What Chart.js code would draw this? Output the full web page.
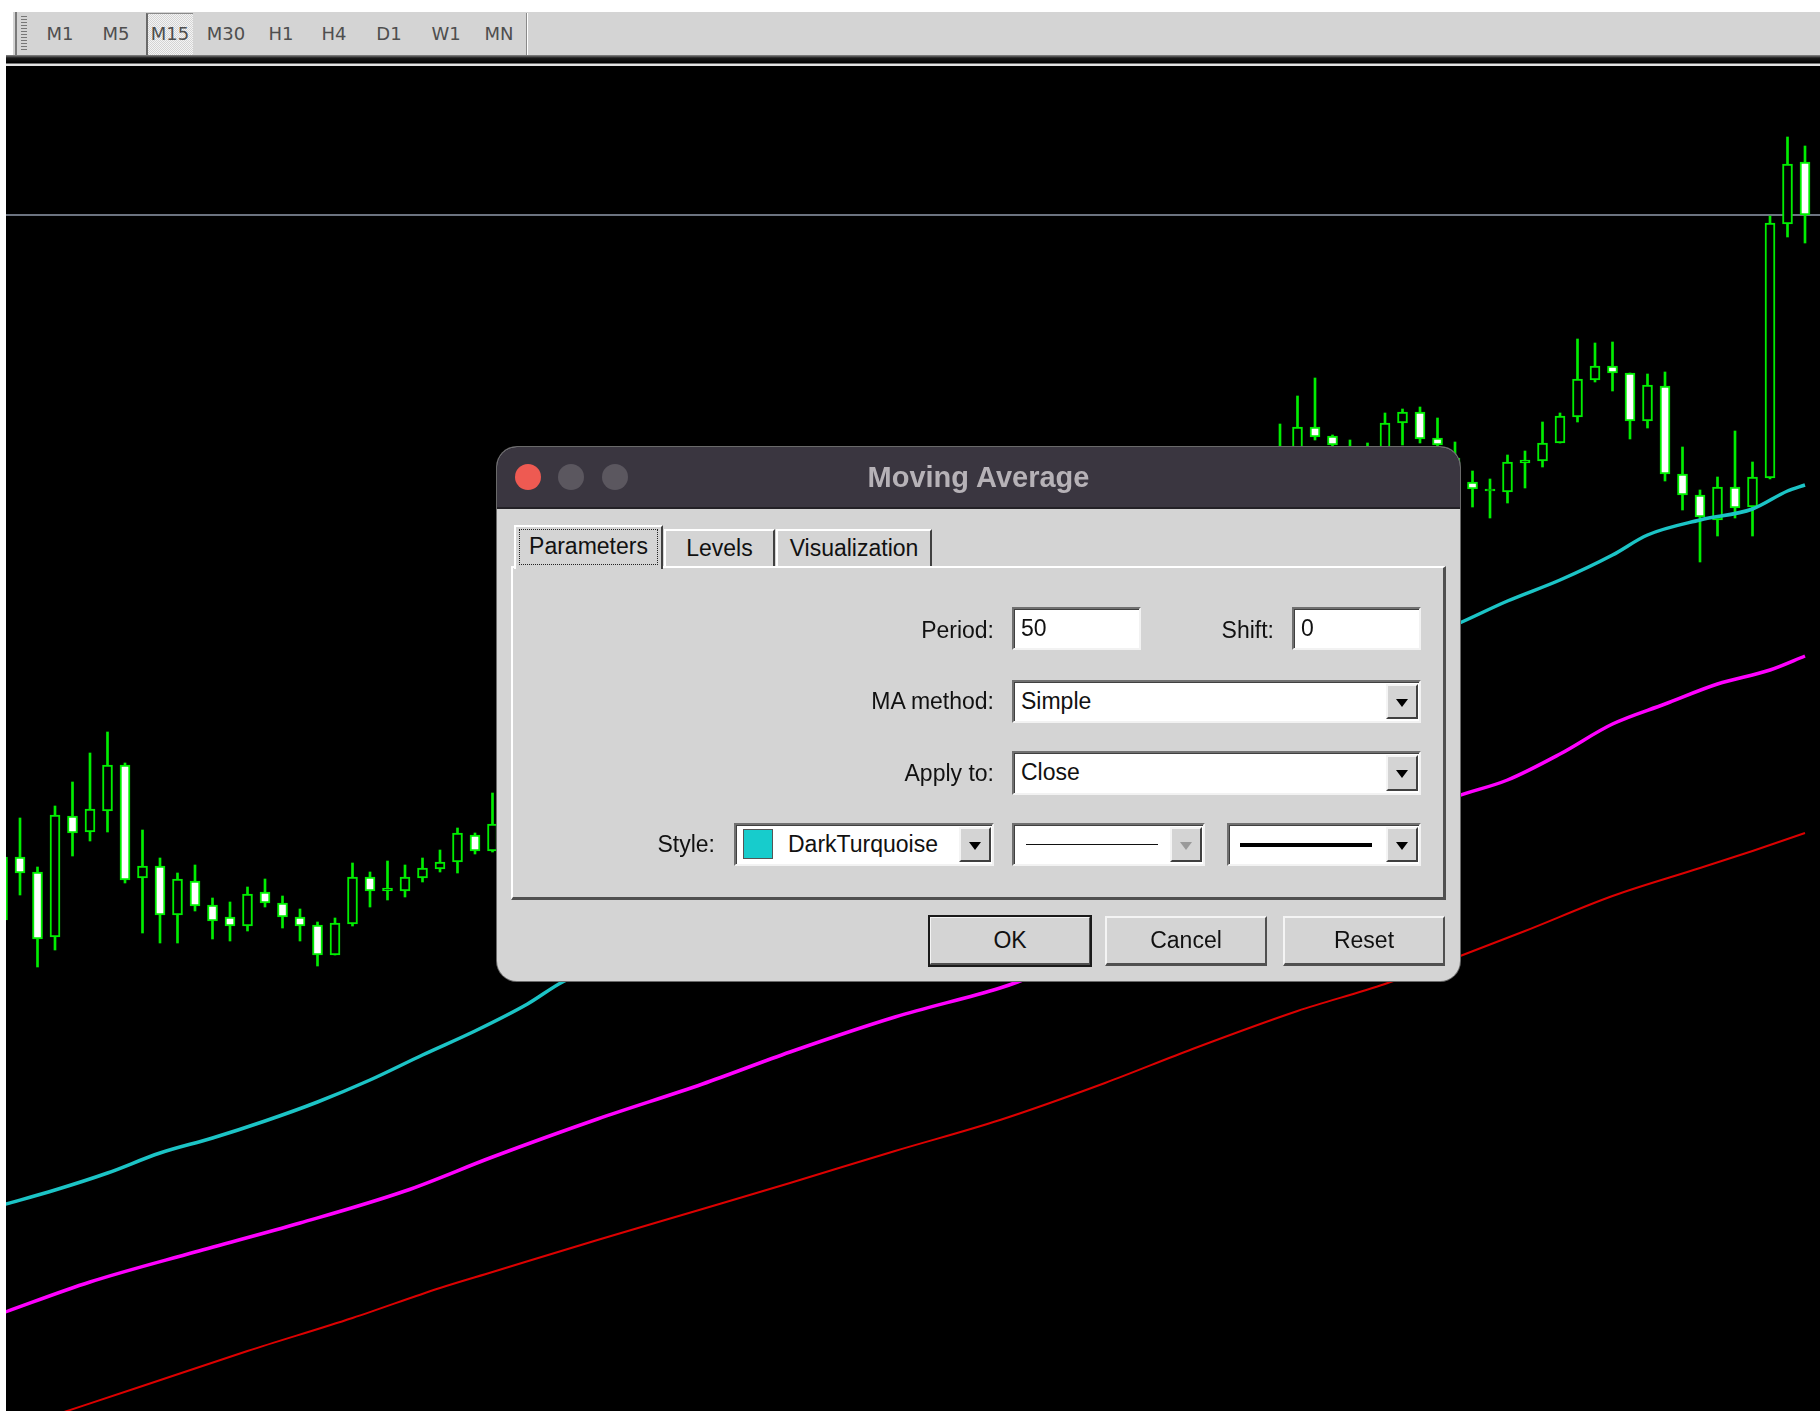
<!DOCTYPE html>
<html>
<head>
<meta charset="utf-8">
<script src="https://cdn.jsdelivr.net/npm/chart.js@4.4.1/dist/chart.umd.min.js"></script>
<style>
body{margin:0;width:1820px;height:1411px;overflow:hidden;background:#fff;position:relative;font-family:"Liberation Sans",Arial,sans-serif}
#tb{position:absolute;left:13px;top:12px;width:1807px;height:43px;background:#d4d4d4}
.tf{position:absolute;top:12px;height:43px;line-height:43px;font-family:"DejaVu Sans",sans-serif;font-size:18px;color:#4e4e4e;transform:translateX(-50%)}
#sel{position:absolute;left:146px;top:13px;width:47px;height:42px;box-sizing:border-box;border-left:2px solid #6a6a6a;border-top:1px solid #8a8a8a;background:repeating-conic-gradient(#f4f4f4 0 25%,#d4d4d4 0 50%) 0 0/2px 2px}
#under{position:absolute;left:6px;top:55px;width:1814px;height:13px;background:linear-gradient(to bottom,#8a8a8a 0px,#1a1a1a 3px,#000 8px,#e4e4e4 9px,#e4e4e4 11px,#000 11px)}
#cv{position:absolute;left:6px;top:68px;background:#000}
#dlg{position:absolute;left:497px;top:447px;width:963px;height:534px;border-radius:20px;background:#d4d4d4;overflow:hidden;box-shadow:0 0 0 1px #6a6a6a}
#tbar{position:absolute;left:0;top:0;width:100%;height:60px;background:#3a3640;border-bottom:2px solid #232126}
.dot{position:absolute;top:17px;width:26px;height:26px;border-radius:50%;background:#5b575f}
#title{position:absolute;left:0;top:0;width:100%;height:60px;line-height:60px;text-align:center;color:#b6b2b7;font-weight:bold;font-size:29px}
.a{position:absolute;box-sizing:border-box}
.lbl{position:absolute;height:30px;line-height:30px;font-size:23px;color:#111;white-space:nowrap}
.tab{position:absolute;box-sizing:border-box;background:#d4d4d4;border-top:2px solid #fff;border-left:2px solid #fff;border-right:2px solid #404040;font-size:23px;color:#111;text-align:center}
#panel{position:absolute;left:14px;top:119px;width:935px;height:334px;box-sizing:border-box;border-top:2px solid #fff;border-left:2px solid #fff;border-right:3px solid #505050;border-bottom:3px solid #505050}
.fld{position:absolute;box-sizing:border-box;background:#fff;border-top:2px solid #707070;border-left:2px solid #707070;border-right:2px solid #f2f2f2;border-bottom:2px solid #f2f2f2;box-shadow:inset 1px 1px 0 #404040;font-size:23px;color:#111;line-height:38px;padding-left:7px;white-space:nowrap}
.arr{position:absolute;top:2px;right:1px;width:32px;bottom:2px;box-sizing:border-box;background:#d4d4d4;border-top:2px solid #f4f4f4;border-left:2px solid #f4f4f4;border-right:2px solid #404040;border-bottom:2px solid #404040}
.arr:after{content:"";position:absolute;left:8px;top:13px;border-left:6px solid transparent;border-right:6px solid transparent;border-top:8px solid #000}
.arr.off:after{border-top-color:#9a9a9a}
.btn{position:absolute;top:469px;width:162px;height:50px;box-sizing:border-box;background:#d4d4d4;border-top:2px solid #f4f4f4;border-left:2px solid #f4f4f4;border-right:2px solid #505050;border-bottom:3px solid #505050;font-size:23px;color:#111;text-align:center;line-height:44px}
</style>
</head>
<body>
<div id="tb"></div>
<div class="a" style="left:15px;top:12px;width:2px;height:43px;background:#7a7a7a"></div>
<div class="a" style="left:21px;top:16px;width:6px;height:35px;background:repeating-linear-gradient(#777 0 1px,transparent 1px 3px)"></div>
<div id="sel"></div>
<div class="a" style="left:526px;top:13px;width:2px;height:42px;background:#8a8a8a;border-right:1px solid #fff"></div>
<div id="tfs"></div>
<div id="under"></div>
<canvas id="cv" width="1814" height="1343"></canvas>

<div id="dlg">
  <div id="tbar"></div>
  <div class="dot" style="left:18px;background:#ee5a52"></div>
  <div class="dot" style="left:61px"></div>
  <div class="dot" style="left:105px"></div>
  <div id="title">Moving Average</div>

  <div id="panel"></div>
  <div class="tab" style="left:167px;top:82px;width:111px;height:37px;line-height:35px">Levels</div>
  <div class="tab" style="left:279px;top:82px;width:156px;height:37px;line-height:35px">Visualization</div>
  <div class="tab" style="left:17px;top:78px;width:149px;height:44px;line-height:38px">
    <div class="a" style="left:3px;top:2px;width:139px;height:36px;border:1px dotted #222"></div>Parameters
  </div>

  <div class="lbl" style="right:466px;top:168px">Period:</div>
  <div class="fld" style="left:515px;top:160px;width:129px;height:43px">50</div>
  <div class="lbl" style="right:186px;top:168px">Shift:</div>
  <div class="fld" style="left:795px;top:160px;width:129px;height:43px">0</div>

  <div class="lbl" style="right:466px;top:239px">MA method:</div>
  <div class="fld" style="left:515px;top:233px;width:409px;height:43px">Simple<div class="arr"></div></div>

  <div class="lbl" style="right:466px;top:311px">Apply to:</div>
  <div class="fld" style="left:515px;top:304px;width:409px;height:44px">Close<div class="arr"></div></div>

  <div class="lbl" style="right:745px;top:382px">Style:</div>
  <div class="fld" style="left:237px;top:376px;width:260px;height:43px;padding-left:52px">
    <div class="a" style="left:7px;top:4px;width:30px;height:30px;background:#17cccc;border:1px solid #555"></div>DarkTurquoise<div class="arr"></div>
  </div>
  <div class="fld" style="left:515px;top:376px;width:193px;height:43px">
    <div class="a" style="left:12px;top:19px;width:132px;height:1px;background:#111"></div><div class="arr off"></div>
  </div>
  <div class="fld" style="left:730px;top:376px;width:194px;height:43px">
    <div class="a" style="left:11px;top:18px;width:132px;height:4px;background:#000"></div><div class="arr"></div>
  </div>

  <div class="btn" style="left:432px;outline:2px solid #1a1a1a;outline-offset:-1px">OK</div>
  <div class="btn" style="left:608px">Cancel</div>
  <div class="btn" style="left:786px">Reset</div>
</div>

<script>
// toolbar periods and their centre positions
const periods = ['M1','M5','M15','M30','H1','H4','D1','W1','MN'];
const periodX = [60,116,170,226,281,334,389,446,499];

// candle bar indices that are not covered by the dialog
const candleIdx = [0,1,2,3,4,5,6,7,8,9,10,11,12,13,14,15,16,17,18,19,20,21,22,23,24,25,26,27,28,
  73,74,75,76,77,78,79,80,81,82,83,84,85,86,87,88,89,90,91,92,93,94,95,96,97,98,99,100,101,102,103];
const openV = [491,554,539,474,595,579,600,646,533,545,496,530,506,494,485,519,508,494,486,456,487,534,520,520,533,542,549,576,560,
  940,955,984,975,962,945,958,988,999,973,926,929,920,919,948,950,968,994,1031,1045,1038,990,1025,937,916,891,924,904,933,1187,1249];
const highV = [562,593,544,605,629,658,679,648,581,553,538,546,513,509,524,532,515,502,489,493,548,539,550,546,553,561,583,578,618,
  987,1015,1033,976,971,968,998,1002,1004,993,969,940,932,956,960,989,998,1072,1068,1069,1038,1037,1039,964,921,934,980,949,1195,1274,1265];
const lowV = [484,516,444,461,555,570,579,528,478,468,468,500,472,470,480,504,483,470,445,456,485,504,511,514,529,539,538,557,559,
  930,945,971,955,940,935,950,966,968,955,924,904,893,908,923,944,968,989,1029,1020,972,983,930,901,849,875,893,875,932,1174,1168];
const closeV = [554,538,472,596,578,602,646,531,545,496,532,505,490,485,517,508,494,485,456,488,534,520,523,534,543,549,578,560,587,
  962,984,974,966,950,958,988,999,972,966,953,922,922,949,951,968,995,1032,1045,1038,990,1026,937,916,894,924,903,934,1188,1247,1196];

// moving averages (bar index, value)
const maCyanIdx = [0,3,6,9,12,15,18,21,24,27,30,32,83,86,89,92,94,97,100,102,103];
const maCyanVal = [206,221,238,258,273,290,309,331,356,380,407,429,786,810,831,856,876,891,902,920,926];
const maMagIdx = [0,5,11,17,23,28,34,40,45,51,57,58,83,86,89,92,95,98,101,103];
const maMagVal = [98,129,159,188,220,254,292,327,359,394,423,429,614,631,657,687,707,727,741,755];
const maRedIdx = [3,8,14,20,25,28,34,40,45,51,57,63,68,74,79,83,87,92,97,100,103];
const maRedVal = [-4,25,60,93,123,139,171,202,228,260,291,328,362,400,427,453,480,515,543,560,578];

const levelPrice = 1196;

const tfs = document.getElementById('tfs');
periods.forEach((p,k)=>{
  const d = document.createElement('div');
  d.className = 'tf';
  d.style.left = periodX[k]+'px';
  d.textContent = p;
  tfs.appendChild(d);
});

const bodies = candleIdx.map((x,k)=>({x:x, y:[openV[k],closeV[k]]}));
const wicks = candleIdx.map((x,k)=>({x:x, y:[lowV[k],highV[k]]}));
const bodyFill = candleIdx.map((x,k)=> closeV[k]<openV[k] ? '#ffffff' : '#000000');
const pts = (idx,val)=> idx.map((x,k)=>({x:x, y:val[k]}));

const xMin = 0.2, xMax = 103.857;

new Chart(document.getElementById('cv'), {
  type: 'bar',
  data: {
    datasets: [
      {type:'line', data:pts(maCyanIdx,maCyanVal), borderColor:'#1cc4c6', borderWidth:3.5, pointRadius:0, cubicInterpolationMode:'monotone', order:0},
      {type:'line', data:pts(maMagIdx,maMagVal), borderColor:'#ff00ff', borderWidth:3.5, pointRadius:0, cubicInterpolationMode:'monotone', order:0},
      {type:'line', data:pts(maRedIdx,maRedVal), borderColor:'#dc0000', borderWidth:2, pointRadius:0, cubicInterpolationMode:'monotone', order:0},
      {data:bodies, backgroundColor:bodyFill, borderColor:'#00ee00', borderWidth:2, borderSkipped:false, barThickness:10, grouped:false, order:1},
      {data:wicks, backgroundColor:'#00ee00', borderWidth:0, barThickness:2, grouped:false, order:2},
      {type:'line', data:[{x:xMin,y:levelPrice},{x:xMax,y:levelPrice}], borderColor:'#6c7380', borderWidth:2, pointRadius:0, order:3}
    ]
  },
  options: {
    responsive:false, animation:false, devicePixelRatio:1,
    layout:{padding:0},
    plugins:{legend:{display:false}, tooltip:{enabled:false}},
    scales:{
      x:{type:'linear', min:xMin, max:xMax, display:false, offset:false},
      y:{min:0, max:1343, display:false}
    }
  }
});
</script>
</body>
</html>
